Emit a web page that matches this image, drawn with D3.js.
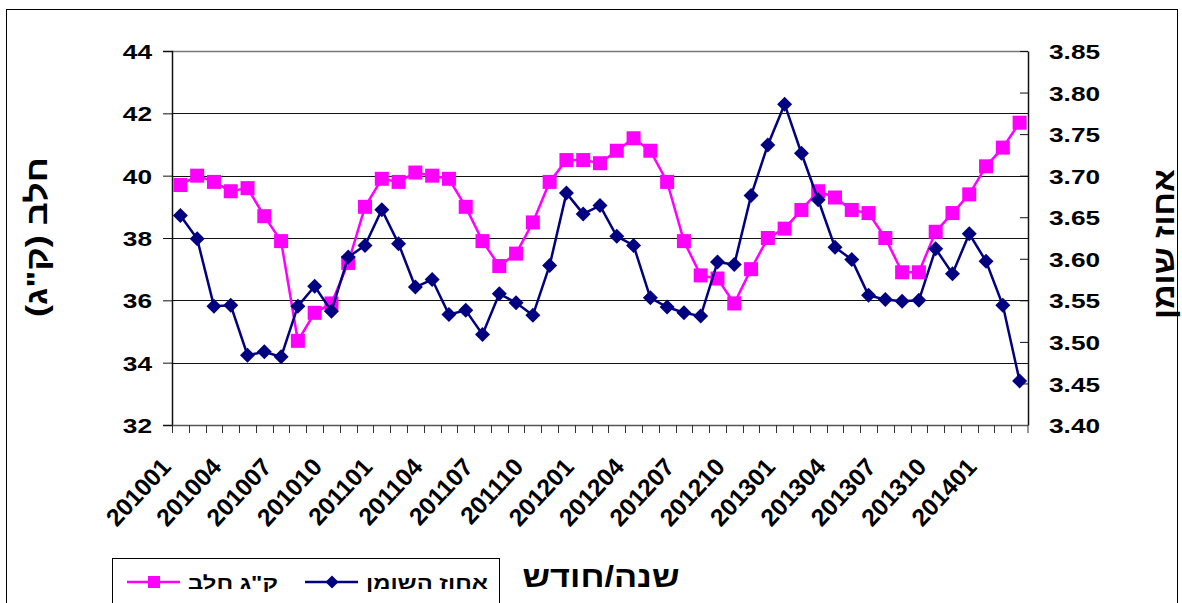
<!DOCTYPE html>
<html><head><meta charset="utf-8">
<script src="https://cdn.jsdelivr.net/npm/d3@7"></script>
<style>
body{margin:0;background:#fff}
svg{display:block}
text{font-family:"Liberation Sans",Arial,sans-serif;font-weight:bold;fill:#000}
</style>
</head><body><svg width="1182" height="603"></svg>
<script>
const months = ["201001","201002","201003","201004","201005","201006","201007","201008","201009","201010","201011","201012",
"201101","201102","201103","201104","201105","201106","201107","201108","201109","201110","201111","201112",
"201201","201202","201203","201204","201205","201206","201207","201208","201209","201210","201211","201212",
"201301","201302","201303","201304","201305","201306","201307","201308","201309","201310","201311","201312",
"201401","201402","201403"];
const milkKg = [39.7,40.0,39.8,39.5,39.6,38.7,37.9,34.7,35.6,35.9,37.2,39.0,39.9,39.8,40.1,40.0,39.9,39.0,37.9,37.1,
37.5,38.5,39.8,40.5,40.5,40.4,40.8,41.2,40.8,39.8,37.9,36.8,36.7,35.9,37.0,38.0,38.3,38.9,39.5,39.3,
38.9,38.8,38.0,36.9,36.9,38.2,38.8,39.4,40.3,40.9,41.7];
const fatPct = [3.652,3.624,3.543,3.544,3.484,3.488,3.482,3.543,3.567,3.537,3.602,3.616,3.659,3.618,3.566,3.575,3.533,3.538,3.509,3.558,
3.547,3.532,3.592,3.679,3.654,3.664,3.627,3.616,3.553,3.542,3.535,3.531,3.596,3.593,3.676,3.737,3.786,3.727,3.671,3.614,
3.599,3.556,3.551,3.549,3.550,3.612,3.582,3.630,3.597,3.544,3.453];
const leftTicks = [32,34,36,38,40,42,44];
const rightTicks = [3.40,3.45,3.50,3.55,3.60,3.65,3.70,3.75,3.80,3.85];
const labelMonths = ["201001","201004","201007","201010","201101","201104","201107","201110","201201","201204","201207","201210","201301","201304","201307","201310","201401"];
const milkName = "ק\"ג חלב";
const fatName = "אחוז השומן";
const leftTitle = "חלב (ק\"ג)";
const rightTitle = "אחוז שומן";
const xTitle = "שנה/חודש";

const PINK = "#FF00FF", NAVY = "#000080";
const L = 172, R = 1028, T = 51, B = 425;
const svg = d3.select("svg");

svg.append("rect").attr("x",6.5).attr("y",9.5).attr("width",1171).attr("height",640)
  .attr("fill","#fff").attr("stroke","#000").attr("stroke-width",1);

const x = d3.scaleBand().domain(months).range([L,R]);
const bw = x.bandwidth();
const cx = d => x(d) + bw/2;
const yL = d3.scaleLinear().domain([32,44]).range([B,T]);
const yR = d3.scaleLinear().domain([3.40,3.85]).range([B,T]);

// gridlines
svg.append("g").selectAll("line").data(leftTicks.filter(t=>t>32)).join("line")
  .attr("x1",L).attr("x2",R)
  .attr("y1",d=>Math.round(yL(d))+0.5).attr("y2",d=>Math.round(yL(d))+0.5)
  .attr("stroke",d=>d===44?"#777":"#111").attr("stroke-width",d=>d===44?1.6:1);

// left axis
const gl = svg.append("g").attr("transform",`translate(${L},0)`)
  .call(d3.axisLeft(yL).tickValues(leftTicks).tickSize(9).tickPadding(0).tickFormat(d3.format("d")));
gl.select(".domain").attr("stroke","#111").attr("stroke-width",1.5);
gl.selectAll(".tick line").attr("stroke","#111");
gl.selectAll("text").attr("x",0).attr("dy","0.36em").style("font-size","21px")
  .attr("transform","translate(-20,0) scale(1.25,1)");

// right axis
const gr = svg.append("g").attr("transform",`translate(${R},0)`)
  .call(d3.axisRight(yR).tickValues(rightTicks).tickSizeInner(-8).tickSizeOuter(0).tickPadding(0).tickFormat(d3.format(".2f")));
gr.select(".domain").attr("stroke","#111").attr("stroke-width",1.5);
gr.selectAll(".tick line").attr("stroke","#111");
gr.selectAll("text").attr("x",0).attr("dy","0.36em").style("font-size","21px")
  .attr("transform","translate(21,0) scale(1.25,1)");

// bottom axis
const gb = svg.append("g");
gb.append("line").attr("x1",L).attr("x2",R).attr("y1",B+0.5).attr("y2",B+0.5).attr("stroke","#555").attr("stroke-width",1.5);
gb.selectAll("line.tk").data(months.concat(["__end"])).join("line").attr("class","tk")
  .attr("x1",d=>d==="__end"?R:Math.round(x(d))+0.5).attr("x2",d=>d==="__end"?R:Math.round(x(d))+0.5)
  .attr("y1",B).attr("y2",B+8).attr("stroke","#333");
gb.selectAll("text").data(labelMonths).join("text")
  .attr("transform",d=>`translate(${cx(d)-8},468) rotate(-47)`)
  .attr("text-anchor","end").style("font-size","24.5px").text(d=>d);

// series
const line = d3.line();
svg.append("path").attr("fill","none").attr("stroke",PINK).attr("stroke-width",2.5)
  .attr("d",line(months.map((m,i)=>[cx(m),yL(milkKg[i])])));
svg.append("g").selectAll("rect").data(milkKg).join("rect")
  .attr("x",(d,i)=>cx(months[i])-7).attr("y",d=>yL(d)-7).attr("width",14).attr("height",14).attr("fill",PINK);

const diamond = s => `M0,${-s}L${s},0L0,${s}L${-s},0Z`;
svg.append("path").attr("fill","none").attr("stroke",NAVY).attr("stroke-width",2.5)
  .attr("d",line(months.map((m,i)=>[cx(m),yR(fatPct[i])])));
svg.append("g").selectAll("path").data(fatPct).join("path")
  .attr("transform",(d,i)=>`translate(${cx(months[i])},${yR(d)})`).attr("d",diamond(7.5)).attr("fill",NAVY);

// titles
svg.append("text").attr("transform","translate(36,237) rotate(-90)").attr("dy","0.35em")
  .attr("direction","rtl").attr("text-anchor","middle").style("font-size","30px")
  .attr("textLength",160).attr("lengthAdjust","spacingAndGlyphs").text(leftTitle);
svg.append("text").attr("transform","translate(1163,244) rotate(-90)").attr("dy","0.35em")
  .attr("direction","rtl").attr("text-anchor","middle").style("font-size","30px")
  .attr("textLength",150).attr("lengthAdjust","spacingAndGlyphs").text(rightTitle);
svg.append("text").attr("x",601).attr("y",587)
  .attr("direction","rtl").attr("text-anchor","middle").style("font-size","30px")
  .attr("textLength",157).attr("lengthAdjust","spacingAndGlyphs").text(xTitle);

// legend
const lg = svg.append("g");
lg.append("rect").attr("x",112.5).attr("y",558.5).attr("width",387).attr("height",80).attr("fill","#fff").attr("stroke","#000");
lg.append("line").attr("x1",305).attr("x2",358).attr("y1",582).attr("y2",582).attr("stroke",NAVY).attr("stroke-width",2.5);
lg.append("path").attr("transform","translate(332,582)").attr("d",diamond(6.5)).attr("fill",NAVY);
lg.append("text").attr("x",427).attr("y",589).attr("direction","rtl").attr("text-anchor","middle").style("font-size","18px")
  .attr("textLength",122).attr("lengthAdjust","spacingAndGlyphs").text(fatName);
lg.append("line").attr("x1",127).attr("x2",180).attr("y1",582).attr("y2",582).attr("stroke",PINK).attr("stroke-width",2.5);
lg.append("rect").attr("x",148).attr("y",576).attr("width",12).attr("height",12).attr("fill",PINK);
lg.append("text").attr("x",233).attr("y",589).attr("direction","rtl").attr("text-anchor","middle").style("font-size","18px")
  .attr("textLength",90).attr("lengthAdjust","spacingAndGlyphs").text(milkName);
</script>
</body></html>
